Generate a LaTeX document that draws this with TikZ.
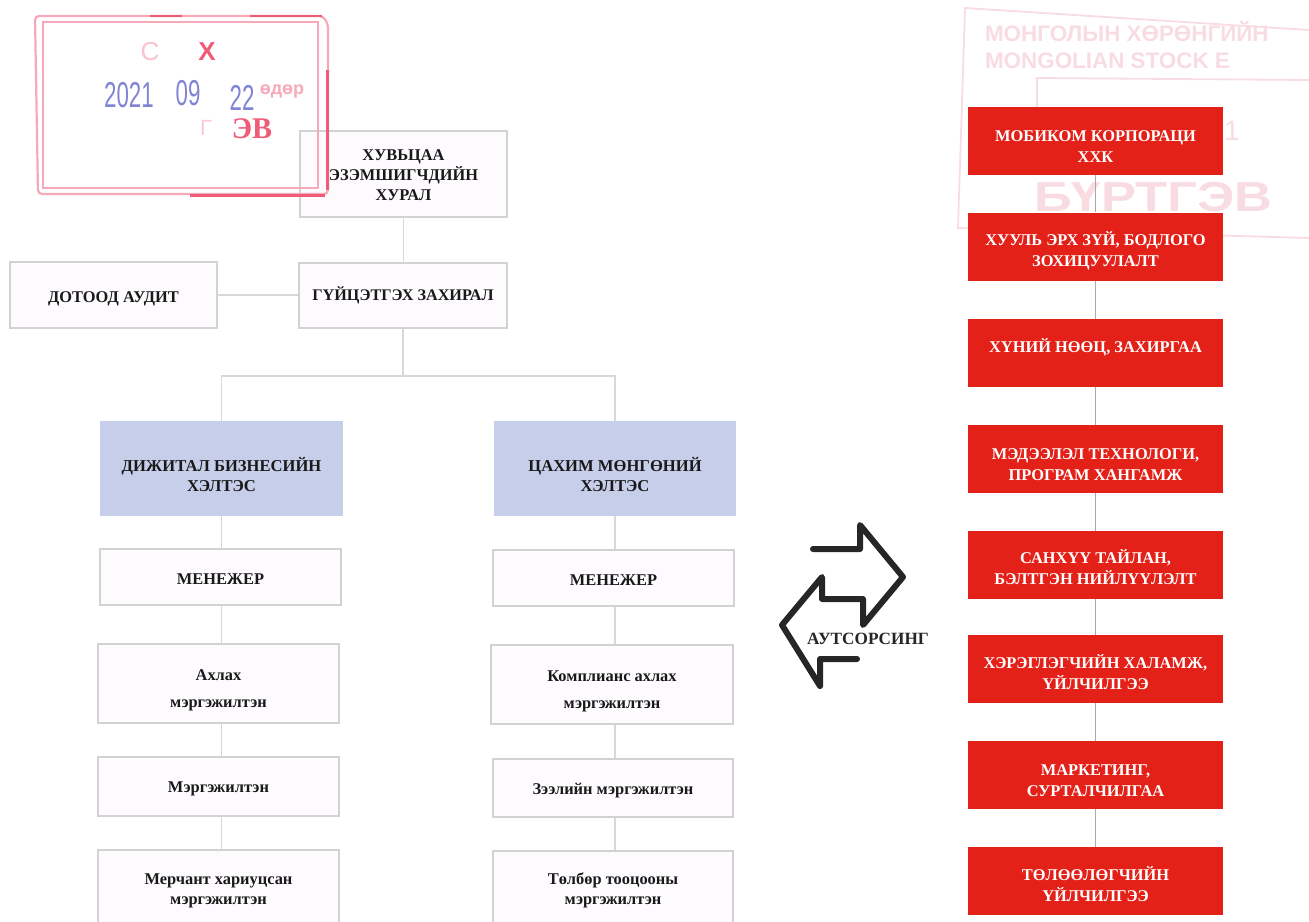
\documentclass[tikz,border=0pt]{standalone}
\usepackage{graphicx}
\usepackage{fontspec}
\setmainfont{Liberation Serif}
\newfontfamily\stampsans{Liberation Sans}
\newcommand{\dnr}[1]{\rule{0pt}{\dimexpr 6pt+#1pt\relax}}
\definecolor{boxline}{HTML}{D2D2D2}
\definecolor{boxfill}{HTML}{FDFBFE}
\definecolor{bluefill}{HTML}{C6CEE9}
\definecolor{redfill}{HTML}{E32118}
\definecolor{conn}{HTML}{D8D8D8}
\definecolor{connd}{HTML}{A8A8A8}
\definecolor{stampred}{HTML}{EE5C78}
\definecolor{stamppale}{HTML}{F6A9B8}
\definecolor{stampblue}{HTML}{8084D2}
\definecolor{stampfaint}{HTML}{F8DCE1}
\begin{document}
\begin{tikzpicture}[x=0.5pt,y=-0.5pt,
  sz/.style 2 args={minimum width=#1*0.5pt,minimum height=#2*0.5pt,inner sep=0pt,align=center},
  wbox/.style={draw=boxline,line width=1pt,fill=boxfill,font=\bfseries\fontsize{8.2}{10}\selectfont,text=black!90},
  wboxs/.style={wbox,font=\bfseries\fontsize{8.2}{10}\selectfont},
  bbox/.style={fill=bluefill,font=\bfseries\fontsize{8.3}{10}\selectfont,text=black!90},
  rbox/.style={fill=redfill,text=white,font=\bfseries\fontsize{8.2}{10.4}\selectfont,sz={255}{68}},
  link/.style={draw=conn,line width=0.7pt},
  linkd/.style={draw=connd,line width=0.6pt},
  faintline/.style={draw=stampfaint,line width=0.9pt},
  stamptext/.style={inner sep=0pt},
  datefig/.style={stamptext,text=stampblue,font=\stampsans\fontsize{18}{19}\selectfont}]
\useasboundingbox (0,0) rectangle (1309,921);
% right stamp, behind the red boxes
\draw[faintline] (1309,30) -- (965,8) -- (958,228) -- (1309,238);
\draw[faintline] (1309,80) -- (1037,78) -- (1037,107);
\node[anchor=west,text=stampfaint,font=\stampsans\bfseries\fontsize{11.2}{13.5}\selectfont,align=left] (st1) at (978,45) {МОНГОЛЫН ХӨРӨНГИЙН\\MONGOLIAN STOCK E};
\node[anchor=west,text=stampfaint,font=\stampsans\bfseries\fontsize{21}{22}\selectfont] (st2) at (1027,197) {\scalebox{1.25}[1]{БҮРТГЭВ}};
\node[text=stampfaint,font=\stampsans\fontsize{14}{15}\selectfont] (st3) at (1232,131) {1};
% left chart
\node[wbox,sz={207}{86}] (top) at (403.5,174) {\dnr{1}ХУВЬЦАА\\ЭЗЭМШИГЧДИЙН\\ХУРАЛ};
\node[wbox,sz={207}{66}] (audit) at (113.5,295) {\dnr{3}ДОТООД АУДИТ};
\node[wbox,sz={208}{65},font=\bfseries\fontsize{8.1}{10}\selectfont] (ceo) at (403,295.5) {\dnr{1}ГҮЙЦЭТГЭХ ЗАХИРАЛ};
\node[bbox,sz={243}{95}] (dig) at (221.5,468.5) {\dnr{7}ДИЖИТАЛ БИЗНЕСИЙН\\ХЭЛТЭС};
\node[bbox,sz={242}{95}] (cash) at (615,468.5) {\dnr{7}ЦАХИМ МӨНГӨНИЙ\\ХЭЛТЭС};
\node[wboxs,sz={241}{56}] (m1) at (220.5,577) {\dnr{1}МЕНЕЖЕР};
\node[wboxs,sz={241}{56}] (m2) at (613.5,578) {\dnr{1}МЕНЕЖЕР};
\node[wboxs,sz={241}{79}] (s1) at (218.5,683.5) {\dnr{6}Ахлах\\[3.5pt]мэргэжилтэн};
\node[wboxs,sz={242}{79}] (s2) at (612,684.5) {\dnr{6}Комплианс ахлах\\[3.5pt]мэргэжилтэн};
\node[wboxs,sz={241}{59}] (p1) at (218.5,786.5) {\dnr{2}Мэргэжилтэн};
\node[wboxs,sz={240}{58}] (p2) at (613,788) {\dnr{2}Зээлийн мэргэжилтэн};
\node[wboxs,sz={241}{74}] (q1) at (218.5,887) {\dnr{3}Мерчант хариуцсан\\мэргэжилтэн};
\node[wboxs,sz={240}{74}] (q2) at (613,888) {\dnr{2}Төлбөр тооцооны\\мэргэжилтэн};
\coordinate (bus) at (403,376);
\draw[link] (top.south) -- (top.south |- ceo.north);
\draw[link] (audit.east) -- (audit.east -| ceo.west);
\draw[link] (ceo.south) -- (bus);
\draw[link] (bus) -| (dig.north);
\draw[link] (bus) -| (cash.north);
\draw[link] (dig.south) -- (dig.south |- m1.north);
\draw[link] (cash.south) -- (cash.south |- m2.north);
\draw[link] (dig.south |- m1.south) -- (dig.south |- s1.north);
\draw[link] (cash.south |- m2.south) -- (cash.south |- s2.north);
\draw[link] (dig.south |- s1.south) -- (dig.south |- p1.north);
\draw[link] (cash.south |- s2.south) -- (cash.south |- p2.north);
\draw[link] (dig.south |- p1.south) -- (dig.south |- q1.north);
\draw[link] (cash.south |- p2.south) -- (cash.south |- q2.north);
% red column
\node[rbox] (r1) at (1095.5,141) {\dnr{5}МОБИКОМ КОРПОРАЦИ\\ХХК};
\node[rbox] (r2) at (1095.5,246.5) {\dnr{5}ХУУЛЬ ЭРХ ЗҮЙ, БОДЛОГО\\ЗОХИЦУУЛАЛТ};
\node[rbox] (r3) at (1095.5,353) {\rule[-7pt]{0pt}{6pt}ХҮНИЙ НӨӨЦ, ЗАХИРГАА};
\node[rbox] (r4) at (1095.5,459) {\dnr{5}МЭДЭЭЛЭЛ ТЕХНОЛОГИ,\\ПРОГРАМ ХАНГАМЖ};
\node[rbox] (r5) at (1095.5,565) {\dnr{3}САНХҮҮ ТАЙЛАН,\\БЭЛТГЭН НИЙЛҮҮЛЭЛТ};
\node[rbox] (r6) at (1095.5,669) {\dnr{4}ХЭРЭГЛЭГЧИЙН ХАЛАМЖ,\\ҮЙЛЧИЛГЭЭ};
\node[rbox] (r7) at (1095.5,775) {\dnr{5}МАРКЕТИНГ,\\СУРТАЛЧИЛГАА};
\node[rbox] (r8) at (1095.5,881) {\dnr{4}ТӨЛӨӨЛӨГЧИЙН\\ҮЙЛЧИЛГЭЭ};
\foreach \a/\b in {r1/r2,r2/r3,r3/r4,r4/r5,r5/r6,r6/r7,r7/r8}
  \draw[linkd] (\a.south) -- (\b.north);
% double outsourcing arrow
\draw[line width=3pt,color=black!85,line join=round,line cap=round]
  (813,549) -- (860,549) -- (860,525) -- (903,577) -- (863,625) -- (863,599)
  -- (822,599) -- (822,577) -- (782,625) -- (820,686) -- (820,659) -- (857,659);
\node[font=\bfseries\fontsize{8.6}{10}\selectfont,text=black!85] (out) at (868,639) {АУТСОРСИНГ};
% left stamp, over the chart
\draw[draw=stamppale,line width=1.1pt,rounded corners=2pt] (35,16) -- (323,16) -- (328,24) -- (328,194) -- (38,194) -- cycle;
\draw[draw=stamppale,line width=0.8pt] (43,22) rectangle (318,188);
\draw[draw=stampred,line width=1.5pt] (327,70) -- (327,190);
\draw[draw=stampred,line width=1.5pt] (190,195) -- (325,195);
\draw[draw=stampred,line width=1pt] (150,15.5) -- (182,15.5) (250,15.5) -- (322,15.5);
\node[stamptext,text=stampred,font=\stampsans\bfseries\fontsize{13}{14}\selectfont] (sa) at (207,52) {Х};
\node[stamptext,text=stamppale!70,font=\stampsans\fontsize{13}{14}\selectfont] (sb) at (150,52) {С};
\node[datefig] (sc) at (129,95) {\scalebox{0.62}[1]{2021}};
\node[datefig] (sd) at (188,93) {\scalebox{0.62}[1]{09}};
\node[datefig] (se) at (242,98) {\scalebox{0.62}[1]{22}};
\node[stamptext,text=stamppale,font=\stampsans\bfseries\fontsize{9}{10}\selectfont] (sf) at (282,92) {өдөр};
\node[stamptext,text=stampred,font=\bfseries\fontsize{15}{16}\selectfont] (sg) at (252,129) {ЭВ};
\node[stamptext,text=stamppale!60,font=\stampsans\fontsize{11}{12}\selectfont] (sh) at (206,128) {Г};
\end{tikzpicture}
\end{document}
